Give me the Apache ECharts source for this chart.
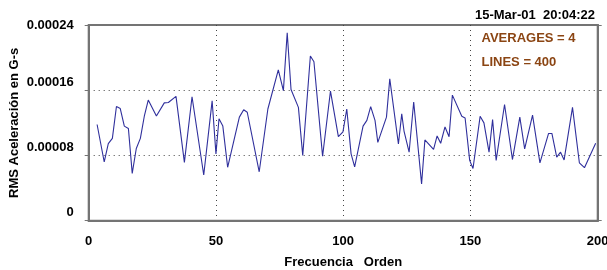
<!DOCTYPE html>
<html>
<head>
<meta charset="utf-8">
<script src="https://cdn.jsdelivr.net/npm/echarts@6/dist/echarts.min.js"></script>
<style>
  html, body { margin: 0; padding: 0; background: #fff; }
  #chart { width: 607px; height: 270px; }
</style>
</head>
<body>
<div id="chart"></div>
<script>
// vertices of the trace (x in orders, y in 1e-5 G-s)
var ordenes = [3.3, 6.1, 7.7, 9.3, 10.9, 12.4, 14.0, 15.6, 17.1, 18.7, 20.3, 21.9, 23.4, 26.6, 29.7, 31.3, 34.3, 37.6, 40.6, 45.2,
    48.5, 50.0, 51.2, 52.7, 54.6, 59.2, 60.9, 62.3, 67.0, 70.4, 74.5, 76.5, 78.0, 79.5, 82.4, 84.1, 87.1, 88.5, 91.9, 95.0,
    98.1, 99.9, 101.4, 103.1, 104.5, 107.8, 109.3, 110.8, 112.5, 113.6, 117.0, 118.3, 121.7, 123.0, 123.9, 125.9, 127.7, 130.8, 132.1, 135.5,
    136.9, 138.3, 140.0, 141.6, 142.9, 146.6, 147.9, 149.7, 151.0, 153.8, 155.3, 157.3, 158.7, 160.1, 163.4, 166.5, 169.4, 171.3, 174.4, 177.3,
    180.7, 182.0, 183.9, 185.4, 186.8, 190.1, 192.8, 194.8, 199.2];
var rms = [11.8, 7.2, 9.45, 10.1, 14.0, 13.75, 11.6, 11.3, 5.8, 8.85, 10.1, 12.9, 14.8, 12.85, 14.45, 14.5, 15.25, 7.15, 15.2, 5.6,
    14.7, 8.2, 12.5, 11.6, 6.55, 12.7, 13.6, 13.3, 6.0, 13.7, 18.5, 15.95, 23.05, 16.1, 13.9, 8.0, 20.2, 19.5, 7.9, 15.9,
    10.3, 10.9, 13.7, 8.2, 6.6, 11.6, 12.3, 14.0, 12.3, 9.6, 12.7, 17.4, 9.4, 13.1, 11.0, 8.4, 14.55, 4.5, 9.9, 8.75,
    10.4, 9.5, 11.5, 10.3, 15.4, 12.8, 12.6, 7.4, 6.4, 12.8, 12.0, 8.4, 12.4, 7.4, 14.25, 7.5, 12.7, 8.8, 12.95, 7.1,
    10.7, 10.7, 7.8, 8.4, 7.45, 13.9, 7.1, 6.5, 9.5];
var yTicks = [0, 8, 16, 24];
var yTickLabels = ['0', '0.00008', '0.00016', '0.00024'];

var dom = document.getElementById('chart');
var myChart = echarts.init(dom);

var puntos = [];
for (var i = 0; i < ordenes.length; i++) {
    puntos.push([ordenes[i], rms[i]]);
}

var bold = {
    fontFamily: 'Liberation Sans, Arial, sans-serif',
    fontWeight: 'bold',
    fontSize: 13,
    color: '#000'
};
var brown = Object.assign({}, bold, { color: '#8b4513' });

option = {
    animation: false,
    backgroundColor: '#fff',
    title: [{
        text: '15-Mar-01  20:04:22',
        left: 475,
        top: 8.5,
        padding: 0,
        textStyle: bold
    }, {
        text: 'AVERAGES = 4',
        left: 481.5,
        top: 31.5,
        padding: 0,
        textStyle: brown
    }, {
        text: 'LINES = 400',
        left: 481.5,
        top: 56,
        padding: 0,
        textStyle: brown
    }],
    grid: {
        left: 88.7,
        right: 9.3,
        top: 25,
        bottom: 49.3,
        containLabel: false,
        outerBoundsMode: 'none',
        show: true,
        borderColor: '#747474',
        borderWidth: 2
    },
    xAxis: {
        type: 'value',
        min: 0,
        max: 200,
        interval: 50,
        name: 'Frecuencia   Orden',
        nameLocation: 'middle',
        nameGap: 35,
        nameMoveOverlap: false,
        nameTextStyle: bold,
        axisLine: { show: true, lineStyle: { color: '#747474', width: 2 } },
        axisTick: { show: false },
        axisLabel: Object.assign({ margin: 14 }, bold),
        splitLine: {
            show: true,
            showMinLine: false,
            showMaxLine: false,
            lineStyle: { color: '#444', type: [1, 4], width: 1 }
        }
    },
    yAxis: [{
        type: 'value',
        min: 0,
        max: 24,
        interval: 8,
        name: 'RMS Aceleración en G-s',
        nameLocation: 'middle',
        nameRotate: 90,
        nameGap: 68,
        nameMoveOverlap: false,
        nameTextStyle: bold,
        axisLine: { show: true, lineStyle: { color: '#747474', width: 2 } },
        axisTick: { show: true, inside: false, length: 4, lineStyle: { color: '#747474', width: 1 } },
        axisLabel: Object.assign({
            margin: 15,
            formatter: function (v) {
                var lab = yTickLabels[yTicks.indexOf(v)];
                return v === 24 ? '{t|' + lab + '}' : '{b|' + lab + '}';
            },
            rich: {
                t: Object.assign({}, bold),
                b: Object.assign({ padding: [0, 0, 16, 0] }, bold)
            }
        }, bold),
        splitLine: {
            show: true,
            showMinLine: false,
            showMaxLine: false,
            lineStyle: { color: '#444', type: [1, 4], width: 1 }
        }
    }, {
        type: 'value',
        position: 'right',
        min: 0,
        max: 24,
        interval: 8,
        axisLine: { show: true, lineStyle: { color: '#747474', width: 2 } },
        axisTick: { show: true, inside: false, length: 4, lineStyle: { color: '#747474', width: 1 } },
        axisLabel: { show: false },
        splitLine: { show: false }
    }],
    series: [{
        name: 'RMS',
        type: 'line',
        data: puntos,
        showSymbol: false,
        smooth: false,
        lineStyle: { color: '#2f2f9c', width: 1.1 },
        clip: true
    }]
};

if (option && typeof option === 'object') {
    myChart.setOption(option, true);
}
</script>
</body>
</html>
